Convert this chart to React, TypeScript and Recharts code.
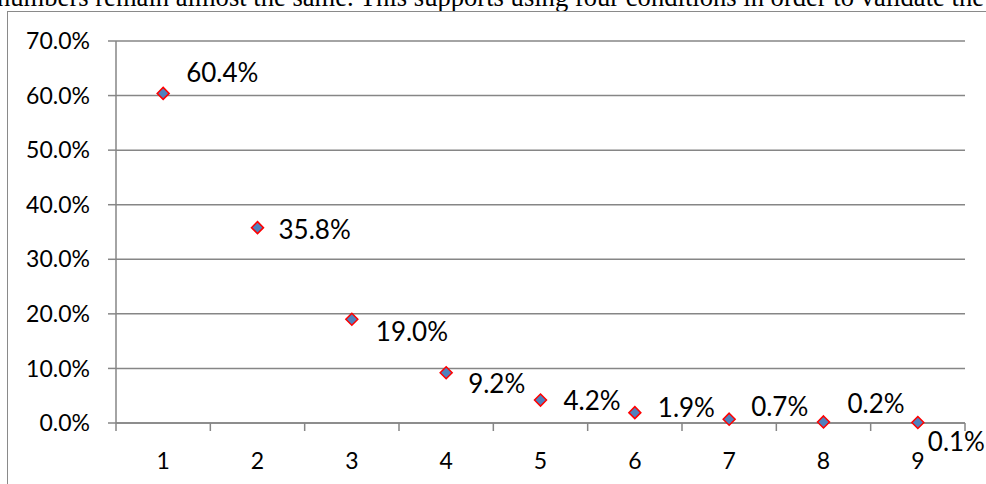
import { LineChart, Line, XAxis, YAxis, CartesianGrid } from 'recharts';

const categories = [1, 2, 3, 4, 5, 6, 7, 8, 9];
const shares = [0.604, 0.358, 0.19, 0.092, 0.042, 0.019, 0.007, 0.002, 0.001];
const yTicks = [0, 0.1, 0.2, 0.3, 0.4, 0.5, 0.6, 0.7];
// boundary ticks between categories plus the category labels themselves
const xTicks = [0.5, 1, 1.5, 2, 2.5, 3, 3.5, 4, 4.5, 5, 5.5, 6, 6.5, 7, 7.5, 8, 8.5, 9, 9.5];

// hand placed data labels, like the original: [dx, dy] from the marker
const labelOffsets = [
  [23, -21],
  [21, 1],
  [24, 12],
  [22, 10],
  [23, 0],
  [23, -6],
  [22, -13],
  [24, -19],
  [10, 19],
];

const data = categories.map((c, i) => ({ x: c, share: shares[i] }));

const GRID = '#868686';
const FONT = 'Lato, "Open Sans", sans-serif';

const pct = (v: number) => `${(v * 100).toFixed(1)}%`;

const Diamond = (props: any) => {
  const { cx, cy } = props;
  if (cx == null || cy == null) return null;
  const r = 6;
  return (
    <polygon
      points={`${cx},${cy - r} ${cx + r},${cy} ${cx},${cy + r} ${cx - r},${cy}`}
      fill="#4F81BD"
      stroke="#FF0000"
      strokeWidth={1.5}
    />
  );
};

const XTick = (props: any) => {
  const { x, y, payload } = props;
  const v = payload.value;
  if (Number.isInteger(v)) {
    return (
      <text x={x} y={y + 37} textAnchor="middle" dominantBaseline="central" fontSize={23} fill="#000" fontFamily={FONT}>
        {v}
      </text>
    );
  }
  return <line x1={x} y1={y} x2={x} y2={y + 8} stroke={GRID} strokeWidth={1.5} />;
};

const ValueLabel = (props: any) => {
  const { x, y, index, value } = props;
  const [dx, dy] = labelOffsets[index] || [20, 0];
  return (
    <text x={x + dx} y={y + dy} textAnchor="start" dominantBaseline="central" fontSize={26} fill="#000" fontFamily={FONT}>
      {pct(value)}
    </text>
  );
};

export default function App() {
  return (
    <div style={{ position: 'fixed', left: 0, top: 0, width: 986, height: 484, overflow: 'hidden', background: '#fff' }}>
      <div
        style={{
          position: 'absolute',
          left: -3,
          top: -16,
          whiteSpace: 'nowrap',
          fontFamily: '"Liberation Serif", "Times New Roman", serif',
          fontSize: 26.6,
          lineHeight: '27px',
          color: '#000',
        }}
      >
        numbers remain almost the same. This supports using four conditions in order to validate the
      </div>
      <div
        style={{
          position: 'absolute',
          left: 7,
          top: 11,
          width: 1100,
          height: 600,
          borderLeft: '1.5px solid #8a8a8a',
          borderTop: '1.5px solid #8a8a8a',
        }}
      />
      <div style={{ position: 'absolute', left: 0, top: 0 }}>
        <LineChart width={986} height={484} data={data} margin={{ top: 41, right: 21, bottom: 11, left: 0 }}>
          <CartesianGrid vertical={false} stroke={GRID} strokeWidth={1.5} />
          <XAxis
            dataKey="x"
            type="number"
            domain={[0.5, 9.5]}
            ticks={xTicks}
            interval={0}
            tickSize={0}
            tickMargin={0}
            tickLine={false}
            tick={<XTick />}
            axisLine={{ stroke: GRID, strokeWidth: 1.5 }}
            height={50}
          />
          <YAxis
            type="number"
            domain={[0, 0.7]}
            ticks={yTicks}
            interval={0}
            tickFormatter={pct}
            width={116}
            tickSize={8}
            tickMargin={18}
            tickLine={{ stroke: GRID, strokeWidth: 1.5 }}
            axisLine={{ stroke: GRID, strokeWidth: 1.5 }}
            tick={{ fontSize: 23, fill: '#000', fontFamily: FONT }}
          />
          <Line
            dataKey="share"
            stroke="none"
            isAnimationActive={false}
            dot={<Diamond />}
            activeDot={false}
            label={<ValueLabel />}
          />
        </LineChart>
      </div>
    </div>
  );
}
